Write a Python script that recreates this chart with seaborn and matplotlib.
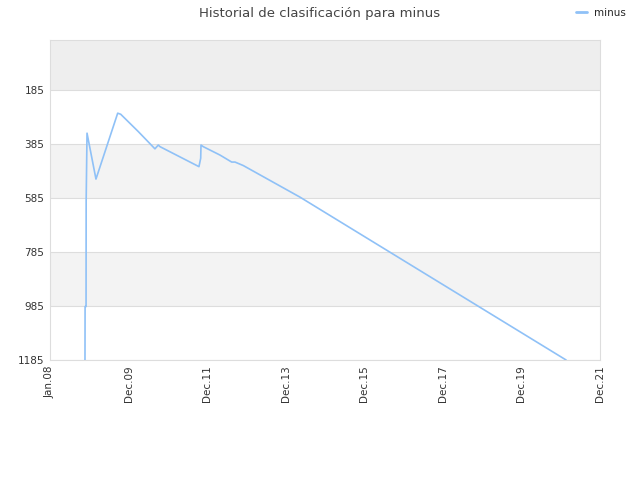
import matplotlib
matplotlib.use("Agg")
import matplotlib.pyplot as plt
import matplotlib.dates as mdates
import seaborn as sns
import pandas as pd
import numpy as np

dates = ["2008-11-21", "2008-11-22", "2008-12-01", "2008-12-02", "2008-12-10", "2009-03-03",
         "2009-09-21", "2009-10-19", "2010-03-31", "2010-09-02", "2010-10-03", "2010-10-19",
         "2011-10-16", "2011-11-01", "2011-11-04", "2011-11-25", "2012-04-28", "2012-08-15",
         "2012-09-15", "2012-12-01", "2014-05-12", "2021-02-16"]
ranks = [1185, 987, 987, 596, 345, 515,
         271, 275, 339, 403, 389, 395,
         469, 438, 389, 395, 426, 452,
         452, 465, 582, 1185]
series_name = "minus"

y_ticks = [185, 385, 585, 785, 985, 1185]
x_tick_dates = pd.date_range("2008-01-01", periods=8, freq="730D")

df = pd.DataFrame({"fecha": pd.to_datetime(dates), "rank": ranks, "serie": series_name})

sns.set_style("white")
plt.rcParams["font.family"] = ["DejaVu Sans"]

fig = plt.figure(figsize=(6.4, 4.8), dpi=100)
ax = fig.add_axes([50/640, 1-360/480, 550/640, 320/480])

# background bands
ax.axhspan(0, 185, color="#eeeeee", zorder=0, lw=0)
band_cols = ["#ffffff", "#f3f3f3"]
for i in range(len(y_ticks) - 1):
    ax.axhspan(y_ticks[i], y_ticks[i+1], color=band_cols[i % 2], zorder=0, lw=0)
for t in y_ticks:
    ax.axhline(t, color="#dddddd", lw=0.8, zorder=1)

sns.lineplot(data=df, x="fecha", y="rank", hue="serie", palette=["#8fc1f7"],
             ax=ax, lw=1.2, zorder=3, estimator=None, sort=False)

ax.set_ylim(1185, 0)
ax.set_xlim(x_tick_dates[0], x_tick_dates[-1])
ax.set_yticks(y_ticks)
ax.set_yticklabels([str(t) for t in y_ticks], fontsize=7.5, color="#333333")
ax.set_xticks(x_tick_dates)
ax.set_xticklabels([d.strftime("%b.%y") for d in x_tick_dates], rotation=90,
                   fontsize=7.5, color="#333333")
ax.tick_params(axis="both", length=0, pad=4)
ax.set_xlabel("")
ax.set_ylabel("")
for s in ax.spines.values():
    s.set_color("#dddddd")
    s.set_linewidth(0.8)

fig.suptitle("Historial de clasificación para minus", x=320/640, y=1-13/480, va="center",
             fontsize=9.5, color="#444444")
handles, labels = ax.get_legend_handles_labels()
for h in handles:
    h.set_linewidth(2)
ax.legend(handles, labels, loc="center left", bbox_to_anchor=(571/640, 1-13/480),
          bbox_transform=fig.transFigure, frameon=False, fontsize=7.5,
          handlelength=1.0, handletextpad=0.7, borderpad=0)

fig.savefig("out.png", dpi=100)
